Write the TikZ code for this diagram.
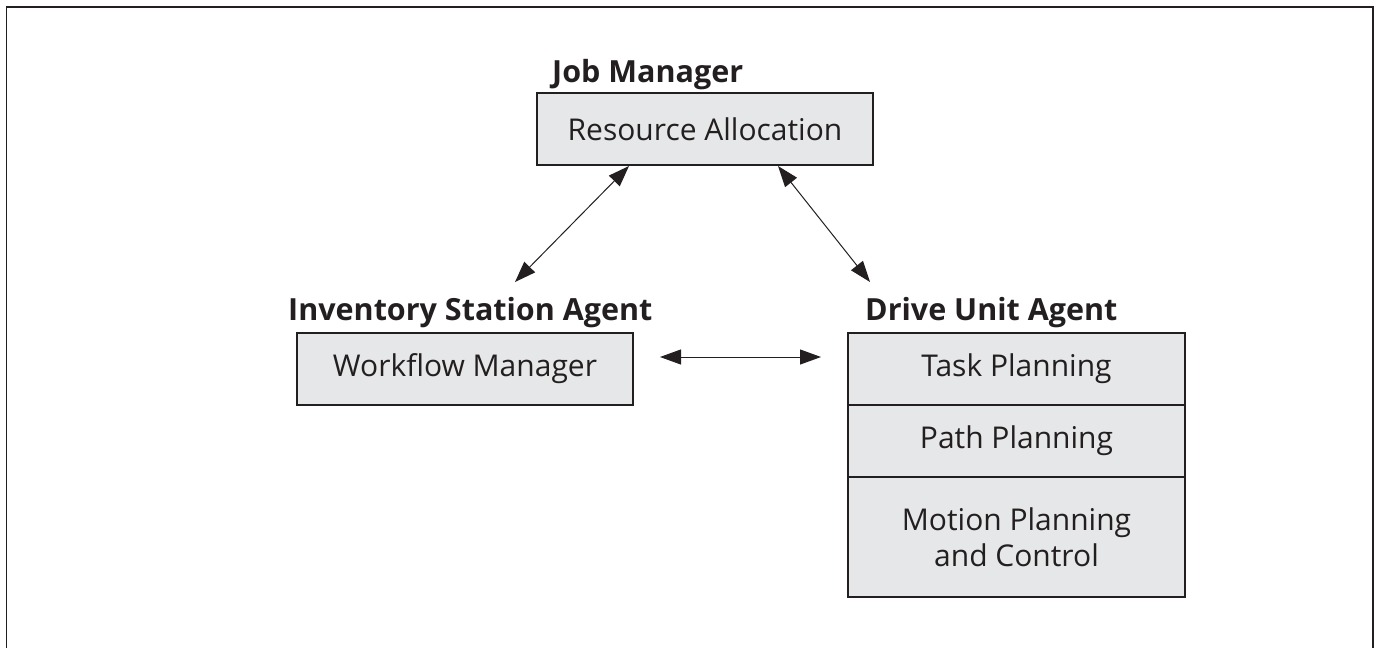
\documentclass[tikz,border=0pt]{standalone}
\usepackage{fontspec}
\setmainfont{Open Sans}
\usetikzlibrary{arrows.meta}
\definecolor{boxfill}{HTML}{E6E7E8}
\definecolor{ink}{HTML}{231F20}
\begin{document}
\begin{tikzpicture}[x=1pt,y=-1pt,
  box/.style={draw=ink,line width=1.2pt,fill=boxfill,inner sep=0pt,text=ink,
    font=\fontsize{30}{36}\selectfont,align=center},
  title/.style={anchor=base west,inner sep=0pt,text=ink,font=\fontsize{30.5}{34}\selectfont\bfseries},
  link/.style={draw=ink,line width=1pt,{Triangle[length=21pt,width=15pt]}-{Triangle[length=21pt,width=15pt]}}]
\useasboundingbox (0,0) rectangle (1375,648);
\draw[ink,line width=1.5pt] (6.5,648) -- (6.5,7) -- (1373,7) -- (1373,648);
% boxes
\node[box,minimum width=336pt,minimum height=72pt] (ra) at (705,129) {Resource Allocation};
\node[box,minimum width=336pt,minimum height=72pt] (wf) at (465,369) {Workflow Manager};
\node[box,minimum width=337pt,minimum height=72pt] (tp) at (1016.5,369) {Task Planning};
\node[box,minimum width=337pt,minimum height=72pt] (pp) at (1016.5,441) {Path Planning};
\node[box,minimum width=337pt,minimum height=120pt] (mp) at (1016.5,537) {Motion Planning\\and Control};
% titles
\node[title] (jm) at (552,82) {Job Manager};
\node[title] (isa) at (288,320) {Inventory Station Agent};
\node[title] (dua) at (865,320) {Drive Unit Agent};
% connectors
\coordinate (a1s) at (629,166);
\coordinate (a1e) at (515,282);
\coordinate (a2s) at (778,166);
\coordinate (a2e) at (870,282);
\coordinate (h1) at (660,357);
\coordinate (h2) at (821,357);
\draw[link] (a1s) -- (a1e);
\draw[link] (a2s) -- (a2e);
\draw[link] (h1) -- (h2);
\end{tikzpicture}
\end{document}
